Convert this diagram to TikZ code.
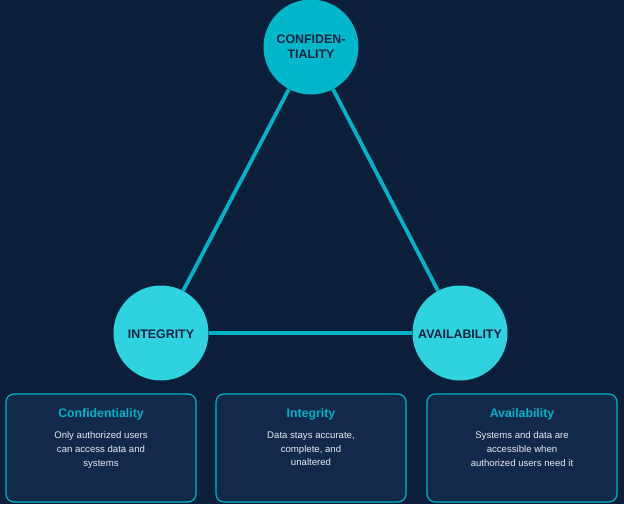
\documentclass[tikz,border=0pt]{standalone}
\usepackage{fontspec}
\setmainfont{Liberation Sans}
\definecolor{bg}{HTML}{0B1F3A}
\definecolor{boxfill}{HTML}{13294C}
\definecolor{cyanline}{HTML}{00B4C8}
\definecolor{topcirc}{HTML}{00B7CA}
\definecolor{botcirc}{HTML}{2ED3DF}
\definecolor{navytext}{HTML}{0E2240}
\definecolor{bodytext}{HTML}{E6EBF2}
\begin{document}
\begin{tikzpicture}[x=1pt,y=-1pt,
  pillar/.style={circle, minimum size=95pt, inner sep=0pt, text=navytext, font=\bfseries\fontsize{12.4}{15}\selectfont, align=center},
  edge/.style={draw=cyanline, line width=3.8pt},
  card/.style={draw=cyanline, line width=1.2pt, fill=boxfill, rounded corners=8pt, minimum width=190pt, minimum height=108pt, inner sep=0pt},
  cardtitle/.style={text=cyanline, font=\bfseries\fontsize{12.3}{15}\selectfont},
  cardbody/.style={text=bodytext, font=\fontsize{9.6}{13.6}\selectfont, align=center}]
\fill[bg] (0,0) rectangle (624,504);
\useasboundingbox (0,0) rectangle (624,504);
\node[pillar, fill=topcirc] (conf) at (311,47) {CONFIDEN-\\TIALITY};
\node[pillar, fill=botcirc] (integ) at (161,333) {};
\node[pillar, fill=botcirc] (avail) at (460,333) {};
\node[pillar] (integlbl) at (161,334.5) {INTEGRITY};
\node[pillar] (availlbl) at (460,334.5) {AVAILABILITY};
\draw[edge] (conf) -- (integ);
\draw[edge] (conf) -- (avail);
\draw[edge] (integ) -- (avail);
\node[card] (c1) at (101,448) {};
\node[card] (c2) at (311,448) {};
\node[card] (c3) at (522,448) {};
\node[cardtitle] (t1) at (101,414.5) {Confidentiality};
\node[cardtitle] (t2) at (311,414.5) {Integrity};
\node[cardtitle] (t3) at (522,414.5) {Availability};
\node[cardbody, anchor=north] (b1) at (101,428.5) {Only authorized users\\can access data and\\systems};
\node[cardbody, anchor=north] (b2) at (311,428.5) {Data stays accurate,\\complete, and\\unaltered};
\node[cardbody, anchor=north] (b3) at (522,428.5) {Systems and data are\\accessible when\\authorized users need it};
\end{tikzpicture}
\end{document}
